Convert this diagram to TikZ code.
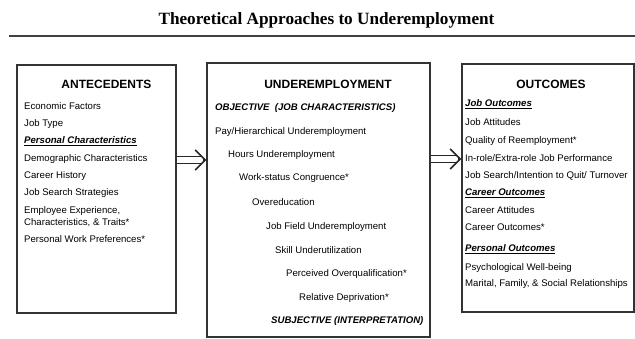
\documentclass[tikz,border=0pt]{standalone}
\usepackage{fontspec}
\setmainfont{Liberation Sans}
\newfontfamily\titlefont{Liberation Serif}
\usetikzlibrary{arrows.meta}

\begin{document}
\begin{tikzpicture}[x=1pt, y=-1pt,
    every node/.style={inner sep=0pt, text=black},
    panel/.style={draw=black!80, line width=1.4pt, rectangle},
    entry/.style={anchor=base west, font=\fontsize{9.6}{12}\selectfont, align=left},
    heading/.style={anchor=base, font=\fontsize{12}{14}\selectfont\bfseries},
    group/.style={entry, font=\fontsize{9.6}{12}\selectfont\bfseries\itshape},
    shaft/.style={draw=black!85, double, double distance=6pt, line width=1.4pt, shorten >=5pt},
    barb/.style={draw=black!85, line width=1.6pt, -{Straight Barb[length=10pt, width=20pt]}}]
\useasboundingbox (0,0) rectangle (635,339);

\node [font=\titlefont\fontsize{17.2}{20}\selectfont\bfseries] (title) at (326.5,20) {Theoretical Approaches to Underemployment};
\draw [black!75, line width=2pt] (9,36) -- (635,36);

% three panels
\node [panel, minimum width=159pt, minimum height=248pt] (ante) at (96.5,189) {};
\node [panel, minimum width=223pt, minimum height=274pt] (under) at (318.5,200) {};
\node [panel, minimum width=172pt, minimum height=248pt] (outc) at (548,188) {};

% arrows between the panels
\coordinate (a1) at ([yshift=29pt]ante.east);
\coordinate (a2) at ([yshift=29pt]outc.west);
\draw [shaft] (a1) -- (a1 -| under.west);
\draw [barb] ([xshift=-3pt]a1 -| under.west) -- (a1 -| under.west);
\draw [shaft] (a2 -| under.east) -- (a2);
\draw [barb] ([xshift=-3pt]a2) -- (a2);

% antecedents
\node [heading] (anteh) at (106.5,89) {ANTECEDENTS};
\node [entry] (econ) at (24,109.5) {Economic Factors};
\node [entry] (jobtype) at (24,126.5) {Job Type};
\node [group] (perschar) at (24,143.5) {\underline{Personal Characteristics}};
\node [entry] (demo) at (24,161.5) {Demographic Characteristics};
\node [entry] (career) at (24,178.5) {Career History};
\node [entry] (search) at (24,195.5) {Job Search Strategies};
\node [entry] (exper) at (24,225.5) {Employee Experience,\\Characteristics, \& Traits*};
\node [entry] (prefs) at (24,242.5) {Personal Work Preferences*};

% underemployment
\node [heading] (underh) at (328,89) {UNDEREMPLOYMENT};
\node [group] (objective) at (215,110.5) {OBJECTIVE\ \ (JOB CHARACTERISTICS)};
\node [entry] (pay) at (215,134.5) {Pay/Hierarchical Underemployment};
\node [entry] (hours) at (228,157.5) {Hours Underemployment};
\node [entry] (status) at (239,180.5) {Work-status Congruence*};
\node [entry] (overedu) at (252,205.5) {Overeducation};
\node [entry] (field) at (266,229.5) {Job Field Underemployment};
\node [entry] (skill) at (275,253.5) {Skill Underutilization};
\node [entry] (overqual) at (286,276.5) {Perceived Overqualification*};
\node [entry] (depriv) at (299,300.5) {Relative Deprivation*};
\node [group] (subjective) at (271,323.5) {SUBJECTIVE (INTERPRETATION)};

% outcomes
\node [heading] (outch) at (551,89) {OUTCOMES};
\node [group] (jobout) at (465,106.5) {\underline{Job Outcomes}};
\node [entry] (jobatt) at (465,125.5) {Job Attitudes};
\node [entry] (reemp) at (465,143.5) {Quality of Reemployment*};
\node [entry] (perf) at (465,161.5) {In-role/Extra-role Job Performance};
\node [entry] (quit) at (465,178.5) {Job Search/Intention to Quit/ Turnover};
\node [group] (carout) at (465,195.5) {\underline{Career Outcomes}};
\node [entry] (caratt) at (465,213.5) {Career Attitudes};
\node [entry] (carres) at (465,230.5) {Career Outcomes*};
\node [group] (persout) at (465,251.5) {\underline{Personal Outcomes}};
\node [entry] (wellb) at (465,270.5) {Psychological Well-being};
\node [entry] (family) at (465,286.5) {Marital, Family, \& Social Relationships};

\end{tikzpicture}
\end{document}
